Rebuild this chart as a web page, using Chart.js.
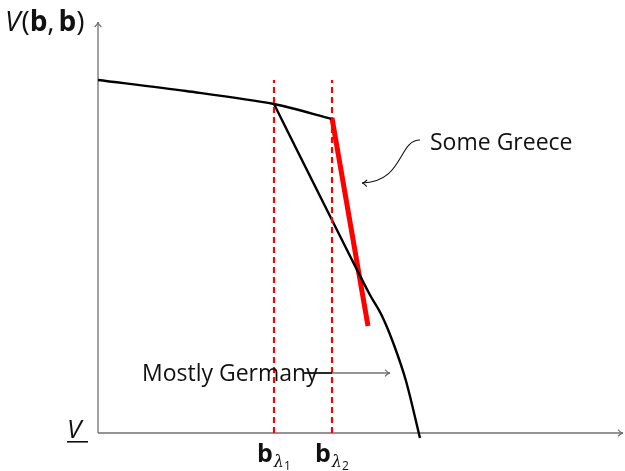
<!DOCTYPE html>
<html>
<head>
<meta charset="utf-8">
<script src="https://cdn.jsdelivr.net/npm/chart.js@4.4.1/dist/chart.umd.min.js"></script>
<style>
  html, body { margin: 0; padding: 0; background: #fff; }
  #wrap { width: 625px; height: 471px; }
</style>
</head>
<body>
<div id="wrap"><canvas id="c" width="625" height="471"></canvas></div>
<script>
// values in plot units (x to the right, y upwards from the V line)
const upperCurve = [
  { x: 0, y: 353 }, { x: 88, y: 342 }, { x: 176, y: 329 }, { x: 234, y: 314 }
];
const lowerCurve = [
  { x: 176, y: 329 }, { x: 250, y: 181 }, { x: 272, y: 138 }, { x: 284, y: 117 },
  { x: 296, y: 88 }, { x: 308, y: 52 }, { x: 322, y: -5 }
];
const redSegment = [{ x: 234, y: 315 }, { x: 270, y: 107 }];
const lambdaX = [176, 234];
const lambdaTop = 353;
const lambdaLabels = ['1', '2'];
const xMax = 526, yMax = 411;

const axisColor = '#707070';
const font = '"Open Sans", "DejaVu Sans", sans-serif';

function arrowHead(ctx, x, y, ang, size) {
  ctx.beginPath();
  ctx.moveTo(x - size * Math.cos(ang - 0.6), y - size * Math.sin(ang - 0.6));
  ctx.quadraticCurveTo(x - size * 0.3 * Math.cos(ang), y - size * 0.3 * Math.sin(ang), x, y);
  ctx.quadraticCurveTo(x - size * 0.3 * Math.cos(ang), y - size * 0.3 * Math.sin(ang),
    x - size * Math.cos(ang + 0.6), y - size * Math.sin(ang + 0.6));
  ctx.stroke();
}

// axes, labels and annotation arrows
const decor = {
  id: 'decor',
  beforeDatasetsDraw(chart) {
    const ctx = chart.ctx, xs = chart.scales.x, ys = chart.scales.y;
    const x0 = xs.getPixelForValue(0), y0 = ys.getPixelForValue(0);
    ctx.save();
    ctx.strokeStyle = axisColor;
    ctx.lineWidth = 1.3;
    ctx.beginPath();
    ctx.moveTo(x0, y0); ctx.lineTo(x0, ys.getPixelForValue(yMax));
    ctx.moveTo(x0, y0); ctx.lineTo(xs.getPixelForValue(xMax) - 1, y0);
    ctx.stroke();
    arrowHead(ctx, x0, ys.getPixelForValue(yMax), -Math.PI / 2, 6);
    arrowHead(ctx, xs.getPixelForValue(xMax) - 1, y0, 0, 6);
    ctx.restore();
  },
  afterDatasetsDraw(chart) {
    const ctx = chart.ctx, xs = chart.scales.x, ys = chart.scales.y;
    const px = v => xs.getPixelForValue(v);
    ctx.save();
    ctx.fillStyle = '#111';
    ctx.textBaseline = 'alphabetic';

    // y-axis title V(b,b)
    let x = 5, base = 31;
    ctx.font = 'italic 28px ' + font; ctx.fillText('V', x, base); x += ctx.measureText('V').width + 1;
    ctx.font = '28px ' + font; ctx.fillText('(', x, base); x += ctx.measureText('(').width;
    ctx.font = 'bold 28px ' + font; ctx.fillText('b', x, base); x += ctx.measureText('b').width;
    ctx.font = '28px ' + font; ctx.fillText(',', x, base); x += ctx.measureText(',').width + 4;
    ctx.font = 'bold 28px ' + font; ctx.fillText('b', x, base); x += ctx.measureText('b').width;
    ctx.font = '28px ' + font; ctx.fillText(')', x, base);

    // underlined V at the bottom
    ctx.font = 'italic 26px ' + font;
    ctx.fillText('V', 67, 438);
    ctx.fillRect(67, 441, 21, 1.6);

    // b_lambda labels
    lambdaX.forEach((v, i) => {
      const cx = px(v);
      const lx = cx - 17;
      ctx.font = 'bold 25px ' + font;
      const bw = ctx.measureText('b').width;
      ctx.fillText('b', lx, 462);
      ctx.font = 'italic 16px "DejaVu Serif", serif';
      ctx.fillText('λ', lx + bw + 1, 467);
      const lw = ctx.measureText('λ').width;
      ctx.font = '12px ' + font;
      ctx.fillText(lambdaLabels[i], lx + bw + 1 + lw, 470);
    });

    // Mostly Germany
    ctx.font = '23px ' + font;
    ctx.fillText('Mostly Germany', 142, 381);
    const gy = 373;
    ctx.strokeStyle = axisColor; ctx.lineWidth = 1.3;
    ctx.beginPath(); ctx.moveTo(px(lambdaX[1]), gy); ctx.lineTo(390, gy); ctx.stroke();
    arrowHead(ctx, 390, gy, 0, 6);
    ctx.strokeStyle = '#111'; ctx.lineWidth = 1.8;
    ctx.beginPath(); ctx.moveTo(304, gy); ctx.lineTo(px(lambdaX[1]), gy); ctx.stroke();

    // Some Greece
    ctx.font = '23px ' + font;
    ctx.fillText('Some Greece', 430, 150);
    ctx.strokeStyle = '#111'; ctx.lineWidth = 1.1;
    ctx.beginPath();
    ctx.moveTo(420, 140);
    ctx.bezierCurveTo(398, 140, 404, 182, 362, 183);
    ctx.stroke();
    arrowHead(ctx, 362, 183, Math.PI + 0.05, 6);
    ctx.restore();
  }
};

new Chart(document.getElementById('c'), {
  type: 'scatter',
  data: {
    datasets: [
      { data: [{ x: lambdaX[0], y: 0 }, { x: lambdaX[0], y: lambdaTop }], showLine: true,
        borderColor: '#ff0000', borderWidth: 2.2, borderDash: [6, 4], pointRadius: 0 },
      { data: [{ x: lambdaX[1], y: 0 }, { x: lambdaX[1], y: lambdaTop }], showLine: true,
        borderColor: '#ff0000', borderWidth: 2.2, borderDash: [6, 4], pointRadius: 0 },
      { data: upperCurve, showLine: true, borderColor: '#000', borderWidth: 2.4,
        tension: 0.3, pointRadius: 0 },
      { data: lowerCurve, showLine: true, borderColor: '#000', borderWidth: 2.4,
        cubicInterpolationMode: 'monotone', pointRadius: 0, clip: false },
      { data: redSegment, showLine: true, borderColor: '#ff0000', borderWidth: 5,
        pointRadius: 0 }
    ]
  },
  options: {
    responsive: false,
    animation: false,
    layout: { padding: { left: 98, top: 22, right: 1, bottom: 38 } },
    scales: {
      x: { type: 'linear', min: 0, max: xMax, display: false },
      y: { type: 'linear', min: 0, max: yMax, display: false }
    },
    plugins: { legend: { display: false }, tooltip: { enabled: false } }
  },
  plugins: [decor]
});
</script>
</body>
</html>
